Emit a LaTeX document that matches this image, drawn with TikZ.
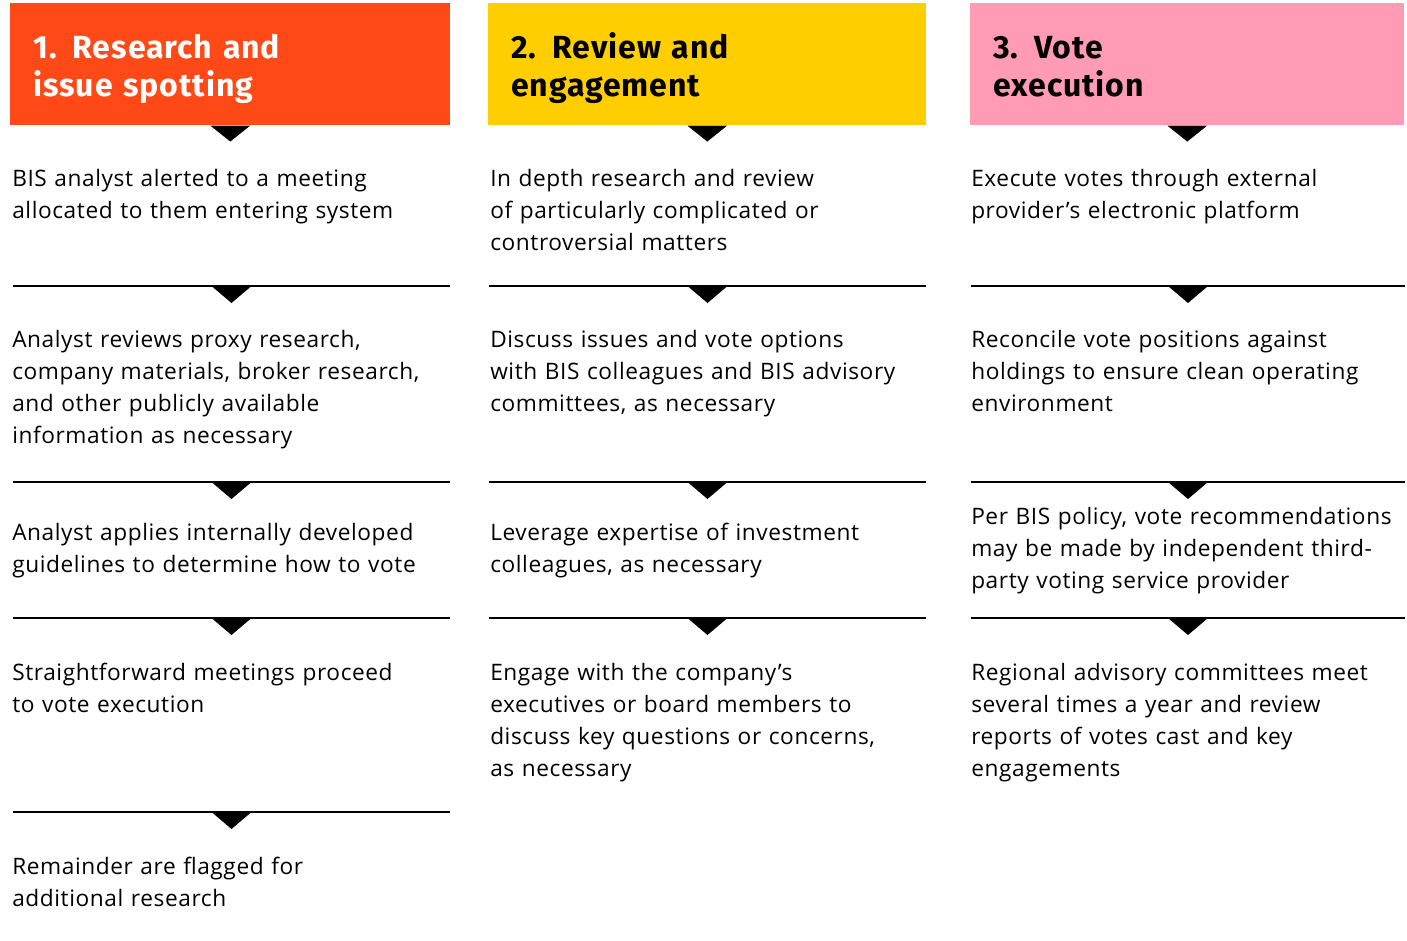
\documentclass[tikz,border=0pt]{standalone}
\usepackage{fontspec}
\setmainfont{Open Sans}[LetterSpace=2.6]
\newfontfamily\headfont{Fira Sans}[LetterSpace=3]
\usetikzlibrary{positioning}
\definecolor{stepone}{HTML}{FF4A17}
\definecolor{steptwo}{HTML}{FFCE00}
\definecolor{stepthree}{HTML}{FF9BB4}

\begin{document}
\begin{tikzpicture}[x=0.75pt,y=-0.75pt,
  head/.style={anchor=north west,minimum height=91.5pt,inner sep=0pt},
  headtxt/.style={anchor=base west,inner sep=0pt,text width=300pt,align=left,
    font=\headfont\fontsize{24}{28.5}\selectfont\bfseries},
  txt/.style={anchor=base west,inner sep=0pt,text width=335pt,align=left,
    font=\fontsize{17}{24}\selectfont},
  sep/.style={line width=1.5pt}]
\useasboundingbox (0,0) rectangle (1407,940);
% headers
\node[head,fill=stepone,minimum width=330pt] (h1) at (10,3) {};
\node[head,fill=steptwo,minimum width=328.5pt] (h2) at (488,3) {};
\node[head,fill=stepthree,minimum width=325.5pt] (h3) at (970,3) {};
\node[headtxt,text=white] (h1t) at (33,58) {1. Research and\\issue spotting};
\node[headtxt] (h2t) at (511,58) {2. Review and\\engagement};
\node[headtxt] (h3t) at (993,58) {3. Vote\\execution};
\foreach \h in {h1,h2,h3}{
 \fill ([xshift=-15pt]\h.south) -- ++(40,0) -- ++(-20,16) -- cycle;}
% separators
\foreach \l/\r/\y in {13/450/286,13/450/482,13/450/618,13/450/812,
  489/926/286,489/926/482,489/926/618,971/1405/286,971/1405/482,971/1405/618}{
 \draw[sep] (\l,\y) -- (\r,\y);
 \fill ({(\l+\r)/2-20},\y) -- ++(40,0) -- ++(-20,17) -- cycle;
}
% column 1
\node[txt] (t11) at (12,186) {BIS analyst alerted to a meeting\\allocated to them entering system};
\node[txt] (t12) at (12,347) {Analyst reviews proxy research,\\company materials, broker research,\\and other publicly available\\information as necessary};
\node[txt] (t13) at (12,540) {Analyst applies internally developed\\guidelines to determine how to vote};
\node[txt] (t14) at (12,680) {Straightforward meetings proceed\\to vote execution};
\node[txt] (t15) at (12,874) {Remainder are flagged for\\additional research};
% column 2
\node[txt] (t21) at (490,186) {In depth research and review\\of particularly complicated or\\controversial matters};
\node[txt] (t22) at (490,347) {Discuss issues and vote options\\with BIS colleagues and BIS advisory\\committees, as necessary};
\node[txt] (t23) at (490,540) {Leverage expertise of investment\\colleagues, as necessary};
\node[txt] (t24) at (490,680) {Engage with the company’s\\executives or board members to\\discuss key questions or concerns,\\as necessary};
% column 3
\node[txt] (t31) at (971,186) {Execute votes through external\\provider’s electronic platform};
\node[txt] (t32) at (971,347) {Reconcile vote positions against\\holdings to ensure clean operating\\environment};
\node[txt] (t33) at (971,524) {Per BIS policy, vote recommendations\\may be made by independent third-\\party voting service provider};
\node[txt] (t34) at (971,680) {Regional advisory committees meet\\several times a year and review\\reports of votes cast and key\\engagements};
\end{tikzpicture}
\end{document}
